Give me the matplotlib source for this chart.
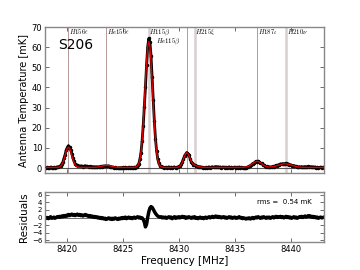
import numpy as np
import matplotlib
matplotlib.use("Agg")
import matplotlib.pyplot as plt

plt.rcParams['mathtext.fontset'] = 'cm'

# Frequency grid (MHz), 0.1 MHz channels
freq_start = 8418.0
freq_step = 0.1

# Model fit (mK), one value per channel
model_mK = [
    0.30, 0.30, 0.30, 0.30, 0.30, 0.30, 0.30, 0.30, 0.30, 0.30,
    0.31, 0.33, 0.40, 0.57, 0.93, 1.60, 2.73, 4.34, 6.31, 8.27,
    9.75, 10.30, 9.75, 8.27, 6.31, 4.34, 2.73, 1.60, 0.93, 0.57,
    0.40, 0.33, 0.31, 0.30, 0.30, 0.30, 0.30, 0.30, 0.30, 0.30,
    0.30, 0.30, 0.30, 0.31, 0.34, 0.36, 0.41, 0.47, 0.56, 0.67,
    0.80, 0.94, 1.08, 1.20, 1.27, 1.30, 1.27, 1.20, 1.08, 0.94,
    0.80, 0.67, 0.56, 0.47, 0.41, 0.36, 0.34, 0.31, 0.30, 0.30,
    0.30, 0.30, 0.30, 0.30, 0.30, 0.30, 0.30, 0.30, 0.30, 0.31,
    0.34, 0.42, 0.63, 1.12, 2.20, 4.20, 7.80, 13.40, 21.50, 31.60,
    42.60, 52.90, 60.20, 62.80, 60.20, 52.90, 42.60, 31.60, 21.50, 13.40,
    7.80, 4.20, 2.20, 1.12, 0.63, 0.42, 0.34, 0.31, 0.30, 0.30,
    0.30, 0.30, 0.30, 0.30, 0.30, 0.30, 0.30, 0.30, 0.34, 0.41,
    0.59, 0.98, 1.70, 2.82, 4.30, 5.86, 7.10, 7.60, 7.22, 6.11,
    4.69, 3.36, 2.37, 1.75, 1.39, 1.18, 1.01, 0.84, 0.70, 0.57,
    0.47, 0.40, 0.35, 0.32, 0.30, 0.30, 0.30, 0.30, 0.30, 0.30,
    0.30, 0.30, 0.30, 0.30, 0.30, 0.30, 0.30, 0.30, 0.30, 0.30,
    0.30, 0.30, 0.30, 0.30, 0.30, 0.30, 0.30, 0.30, 0.30, 0.30,
    0.30, 0.30, 0.30, 0.30, 0.30, 0.30, 0.31, 0.33, 0.36, 0.41,
    0.49, 0.62, 0.81, 1.07, 1.41, 1.80, 2.23, 2.64, 2.99, 3.22,
    3.30, 3.22, 2.99, 2.64, 2.23, 1.80, 1.41, 1.07, 0.84, 0.67,
    0.57, 0.52, 0.52, 0.56, 0.63, 0.74, 0.87, 1.03, 1.20, 1.38,
    1.57, 1.74, 1.89, 2.00, 2.07, 2.10, 2.07, 2.00, 1.89, 1.74,
    1.57, 1.38, 1.20, 1.03, 0.87, 0.74, 0.63, 0.54, 0.47, 0.41,
    0.38, 0.35, 0.33, 0.31, 0.30, 0.30, 0.30, 0.30, 0.30, 0.30,
    0.30, 0.30, 0.30, 0.30, 0.30, 0.30, 0.30, 0.30, 0.30, 0.30, 0.30,
]

# Residuals (data - model, mK)
residual_mK = [
    0.1, -0.2, 0.0, -0.3, -0.1, 0.2, -0.2, -0.1, 0.1, -0.2,
    0.0, 0.2, 0.1, 0.3, 0.1, 0.4, 0.2, 0.5, 0.3, 0.6,
    0.4, 0.8, 0.5, 0.7, 0.9, 0.6, 0.8, 0.5, 0.7, 0.9,
    0.6, 0.8, 0.5, 0.7, 0.4, 0.6, 0.8, 0.5, 0.6, 0.3,
    0.5, 0.2, 0.4, 0.1, 0.3, 0.0, 0.2, -0.1, 0.1, -0.2,
    0.0, -0.3, -0.1, -0.4, -0.2, -0.5, -0.3, -0.1, -0.4, -0.2,
    -0.5, -0.2, -0.4, -0.1, -0.3, -0.5, -0.2, -0.4, -0.1, -0.3,
    0.0, -0.2, 0.1, -0.3, -0.1, 0.1, -0.2, 0.0, -0.3, -0.1,
    0.1, -0.2, 0.0, 0.2, -0.1, 0.1, -0.2, -0.1, -0.5, -1.2,
    -2.5, -1.8, 0.0, 1.5, 2.5, 2.9, 2.7, 2.2, 1.6, 1.1,
    0.7, 0.4, 0.2, 0.1, 0.2, -0.1, 0.1, -0.1, 0.1, -0.2,
    0.0, 0.2, -0.1, 0.1, -0.3, 0.0, 0.2, -0.2, 0.1, -0.1,
    0.2, -0.1, 0.1, 0.3, 0.0, 0.2, -0.2, 0.1, -0.1, 0.2,
    0.0, -0.2, 0.1, -0.1, 0.2, -0.2, 0.0, -0.3, -0.1, 0.1,
    -0.2, 0.0, -0.3, -0.1, 0.1, -0.2, 0.0, 0.2, -0.1, 0.1,
    0.3, 0.0, 0.2, 0.4, 0.1, 0.3, 0.0, 0.2, -0.1, 0.1,
    0.2, -0.1, 0.1, -0.2, 0.0, 0.2, -0.1, 0.1, -0.2, 0.0,
    0.1, -0.2, 0.0, -0.1, 0.2, -0.1, 0.0, -0.3, -0.1, -0.2,
    -0.4, -0.2, -0.3, -0.1, -0.4, -0.2, 0.0, -0.3, -0.1, 0.1,
    -0.1, 0.2, 0.0, -0.2, 0.1, -0.1, 0.2, 0.0, -0.2, 0.1,
    -0.1, 0.1, -0.2, 0.0, 0.2, -0.1, 0.1, 0.3, 0.0, 0.2,
    0.1, 0.3, 0.0, 0.2, -0.1, 0.1, 0.3, 0.0, 0.2, -0.1,
    0.1, -0.2, 0.0, 0.2, -0.1, 0.1, -0.2, 0.0, 0.2, 0.1,
    0.3, 0.0, 0.2, 0.4, 0.1, 0.3, 0.5, 0.2, 0.4, 0.1,
    0.3, 0.0, 0.2, -0.1, 0.1, -0.2, 0.0, 0.1, -0.1, 0.0, 0.1,
]

# Recombination line identifications
line_labels = [r'$H156\epsilon$', r'$He156\epsilon$', r'$H115\beta$',
               r'$He115\beta$', r'$H215\xi$', r'$H187\iota$', r'$H210\nu$']
line_freqs = [8420.1, 8423.5, 8427.3, 8430.7, 8431.4, 8437.0, 8439.6]
line_strong = [False, False, True, False, True, False, True]

source_name = 'S206'
rms_text = 'rms =  0.54 mK'

n = len(model_mK)
freq = freq_start + freq_step * np.arange(n)
model = np.array(model_mK)
resid = np.array(residual_mK)
data = model + resid

fig = plt.figure(figsize=(3.6, 2.7), dpi=100)
ax1 = fig.add_axes([0.125, 0.359, 0.775, 0.541])
ax2 = fig.add_axes([0.125, 0.104, 0.775, 0.185])

spine_col = '#888888'
for ax in (ax1, ax2):
    for s in ax.spines.values():
        s.set_color(spine_col)
        s.set_linewidth(1.0)
    ax.tick_params(direction='in', top=True, right=True, length=3,
                   width=0.6, color='#555555', labelsize=6, pad=2)
    ax.set_xlim(8418, 8443)

# vertical lines
for lab, f, strong in zip(line_labels, line_freqs, line_strong):
    if strong:
        ax1.axvline(f, color='#d9cfcf', lw=1.8, zorder=1)
    else:
        ax1.axvline(f, color='#b89898', lw=0.7, zorder=1)

ax1.axhline(0, color='#555555', lw=0.8, zorder=1)
ax1.plot(freq, data, '-', color='k', lw=2.0, zorder=2)
ax1.plot(freq, data, '.', color='k', ms=3.0, zorder=2)
ax1.plot(freq, model, '-', color='#dd0000', lw=1.0, zorder=3)

for lab, f in zip(line_labels, line_freqs):
    if lab == r'$He115\beta$':
        ax1.text(f - 0.6, 65.3, lab, fontsize=4.8, ha='right', va='top')
    else:
        ax1.text(f + 0.05, 69.8, lab, fontsize=4.8, ha='left', va='top')

ax1.text(0.047, 0.88, source_name, transform=ax1.transAxes,
         fontsize=10, ha='left', va='center')

ax1.set_ylim(-2.5, 70)
ax1.set_yticks(range(0, 71, 10))
ax1.set_xticks([8420, 8425, 8430, 8435, 8440])
ax1.set_xticklabels([])
ax1.set_ylabel('Antenna Temperature [mK]', fontsize=7, labelpad=2)

ax2.axhline(0, color='#555555', lw=0.6, zorder=1)
ax2.plot(freq, resid, '-', color='k', lw=2.5, zorder=2)
ax2.set_ylim(-6.5, 6.8)
ax2.set_yticks(range(-6, 7, 2))
ax2.tick_params(axis='y', labelsize=5)
ax2.set_xticks([8420, 8425, 8430, 8435, 8440])
ax2.set_xlabel('Frequency [MHz]', fontsize=7.5, labelpad=2)
ax2.set_ylabel('Residuals', fontsize=7.5, labelpad=2)
ax2.text(0.955, 0.8, rms_text, transform=ax2.transAxes,
         fontsize=5, ha='right', va='center')

fig.savefig('out.png', dpi=100)
